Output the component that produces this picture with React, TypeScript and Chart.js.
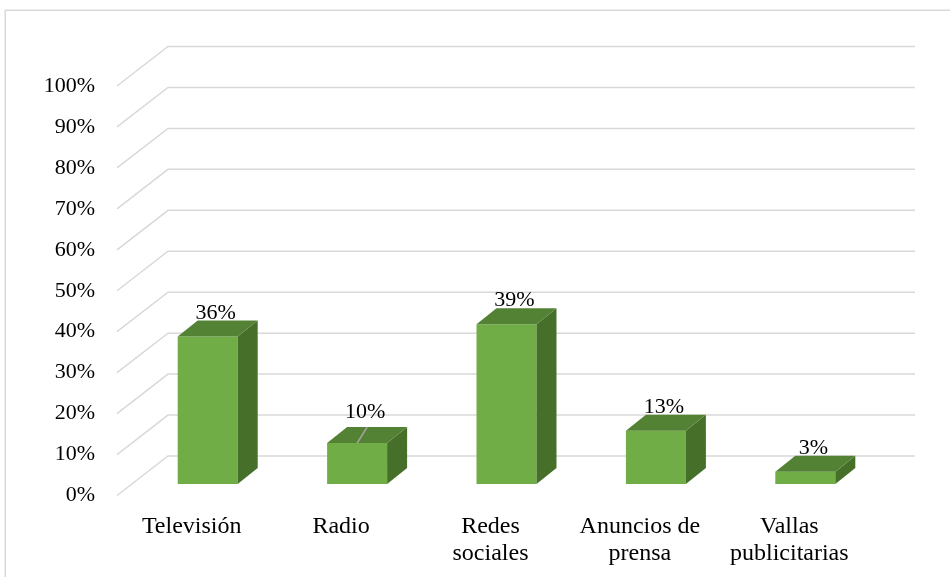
import { useEffect, useRef } from 'react';
import { Chart, registerables } from 'chart.js';

Chart.register(...registerables);

// ---- data ----
const categories: string[][] = [
  ['Televisión'],
  ['Radio'],
  ['Redes', 'sociales'],
  ['Anuncios de', 'prensa'],
  ['Vallas', 'publicitarias'],
];
const values: number[] = [36, 10, 39, 13, 3];
const yMax = 100;
const yStep = 10;
// categories whose data label is lifted and joined with a leader line
const leaderLabels: string[] = ['Radio'];

// ---- style / geometry ----
const FONT = '"Liberation Serif", "Times New Roman", serif';
const FRONT = '#70ad47';
const TOP = '#548235';
const SIDE = '#46702a';
const GRID = '#d9d9d9';
const WALL_X = 51;
const WALL_Y = 39.5;
const BAR_SHIFT_X = 16;
const BAR_SHIFT_Y = 11.5;
const DEPTH_X = 20;
const DEPTH_Y = 16;

const threeD = {
  id: 'threeD',
  beforeDraw(chart: any) {
    const { ctx, width, height } = chart;
    ctx.save();
    ctx.fillStyle = '#ffffff';
    ctx.fillRect(0, 0, width, height);
    ctx.strokeStyle = GRID;
    ctx.lineWidth = 1.5;
    ctx.strokeRect(5.25, 10.25, width + 20, height + 20);
    ctx.restore();
  },
  beforeDatasetsDraw(chart: any) {
    const { ctx, chartArea, scales } = chart;
    const y = scales.y;
    ctx.save();
    ctx.strokeStyle = GRID;
    ctx.lineWidth = 1.5;
    y.ticks.forEach((t: any) => {
      const py = y.getPixelForValue(t.value);
      ctx.beginPath();
      ctx.moveTo(chartArea.left, py);
      ctx.lineTo(chartArea.left + WALL_X, py - WALL_Y);
      ctx.lineTo(chartArea.right + WALL_X, py - WALL_Y);
      ctx.stroke();
    });
    ctx.restore();
    ctx.save();
    ctx.translate(BAR_SHIFT_X, -BAR_SHIFT_Y);
  },
  afterDatasetsDraw(chart: any) {
    const { ctx } = chart;
    const meta = chart.getDatasetMeta(0);
    meta.data.forEach((bar: any) => {
      const { x, y, base, width } = bar.getProps(['x', 'y', 'base', 'width'], true);
      const l = x - width / 2;
      const r = x + width / 2;
      // side face
      ctx.fillStyle = SIDE;
      ctx.beginPath();
      ctx.moveTo(r, base);
      ctx.lineTo(r, y);
      ctx.lineTo(r + DEPTH_X, y - DEPTH_Y);
      ctx.lineTo(r + DEPTH_X, base - DEPTH_Y);
      ctx.closePath();
      ctx.fill();
      // top face
      ctx.fillStyle = TOP;
      ctx.beginPath();
      ctx.moveTo(l, y);
      ctx.lineTo(r, y);
      ctx.lineTo(r + DEPTH_X, y - DEPTH_Y);
      ctx.lineTo(l + DEPTH_X, y - DEPTH_Y);
      ctx.closePath();
      ctx.fill();
    });
    ctx.restore();

    // data labels
    ctx.save();
    ctx.font = '22px ' + FONT;
    ctx.fillStyle = '#000000';
    ctx.textAlign = 'center';
    ctx.textBaseline = 'alphabetic';
    meta.data.forEach((bar: any, i: number) => {
      const { x, y } = bar.getProps(['x', 'y'], true);
      const name = categories[i].join(' ');
      const lifted = leaderLabels.includes(name);
      const fx = x + BAR_SHIFT_X;
      const fy = y - BAR_SHIFT_Y;
      if (lifted) {
        ctx.save();
        ctx.strokeStyle = '#a6a6a6';
        ctx.lineWidth = 1.5;
        ctx.beginPath();
        ctx.moveTo(fx, fy);
        ctx.lineTo(fx + DEPTH_X / 2, fy - DEPTH_Y);
        ctx.stroke();
        ctx.restore();
      }
      const ly = fy - DEPTH_Y - 2 - (lifted ? 7 : 0);
      ctx.fillText(values[i] + '%', fx + DEPTH_X / 2 - 2, ly);
    });
    ctx.restore();
  },
};

export default function App() {
  const ref = useRef<HTMLCanvasElement | null>(null);
  useEffect(() => {
    document.body.style.margin = '0';
    if (!ref.current) return;
    const chart = new Chart(ref.current, {
      type: 'bar',
      data: {
        labels: categories,
        datasets: [
          {
            data: values,
            backgroundColor: FRONT,
            borderWidth: 0,
            barPercentage: 0.4016,
            categoryPercentage: 1,
          },
        ],
      },
      options: {
        responsive: false,
        animation: false,
        devicePixelRatio: 1,
        layout: { padding: { left: 0, right: 86, top: 86, bottom: 1.5 } },
        plugins: { legend: { display: false }, tooltip: { enabled: false } },
        scales: {
          x: {
            grid: { display: false, drawTicks: false },
            border: { display: false },
            ticks: {
              color: '#000000',
              font: { family: FONT, size: 24, lineHeight: 1.12 },
              padding: 17.5,
              maxRotation: 0,
              autoSkip: false,
            },
            afterFit(scale: any) {
              scale.height = 80;
            },
          },
          y: {
            min: 0,
            max: yMax,
            grid: { display: false, drawTicks: false },
            border: { display: false },
            ticks: {
              stepSize: yStep,
              color: '#000000',
              font: { family: FONT, size: 22 },
              padding: 22,
              callback: (v: any) => v + '%',
            },
            afterFit(scale: any) {
              scale.width = 117;
            },
          },
        },
      },
      plugins: [threeD],
    });
    return () => chart.destroy();
  }, []);
  return <canvas ref={ref} width={950} height={577} style={{ display: 'block' }} />;
}
